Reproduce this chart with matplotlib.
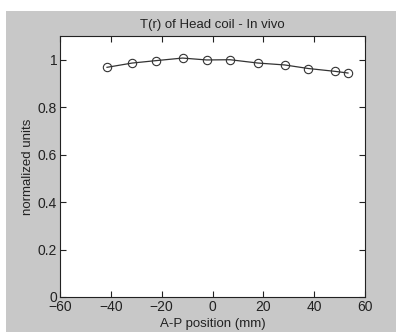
import matplotlib
matplotlib.use("Agg")
import matplotlib.pyplot as plt
from matplotlib.patches import Rectangle

x_pos = [-41.5, -31.6, -22.4, -11.8, -2.3, 6.9, 17.9, 28.4, 37.7, 48.2, 53.3]
t_vals = [0.968, 0.986, 0.996, 1.007, 0.999, 1.000, 0.986, 0.978, 0.963, 0.951, 0.944]
x_ticks = [-60, -40, -20, 0, 20, 40, 60]
y_ticks = [0, 0.2, 0.4, 0.6, 0.8, 1]
y_tick_labels = ["0", "0.2", "0.4", "0.6", "0.8", "1"]

plt.rcParams['font.family'] = ['Liberation Sans', 'DejaVu Sans']

W, H = 396, 332
fig = plt.figure(figsize=(W / 100, H / 100), dpi=100, facecolor='white')
bg = Rectangle((6 / W, 0), 1 - 6 / W, 1 - 11 / H, transform=fig.transFigure,
               facecolor='#c8c8c8', edgecolor='none', zorder=-10)
fig.patches.append(bg)

ax = fig.add_axes([60 / W, 1 - 297 / H, 305 / W, 261 / H])
ax.set_zorder(1)
ax.set_facecolor('white')
ax.plot(x_pos, t_vals, color='#333333', linewidth=0.9, marker='o', markersize=6,
        markerfacecolor='none', markeredgecolor='#333333', markeredgewidth=0.8)

ax.set_xlim(-60, 60)
ax.set_ylim(0, 1.1)
ax.set_xticks(x_ticks)
ax.set_yticks(y_ticks)
ax.set_yticklabels(y_tick_labels)
ax.tick_params(direction='in', top=True, right=True, length=4, width=0.8,
               labelsize=10, colors='#222222', pad=2)
for s in ax.spines.values():
    s.set_linewidth(0.8)
    s.set_color('#222222')

ax.set_title("T(r) of Head coil - In vivo", fontsize=9.5, color='#222222', pad=6)
ax.set_xlabel("A-P position (mm)", fontsize=9.5, color='#222222', labelpad=3)
ax.set_ylabel("normalized units", fontsize=9.5, color='#222222', labelpad=3)

fig.savefig("out.png", dpi=100, facecolor=fig.get_facecolor())
